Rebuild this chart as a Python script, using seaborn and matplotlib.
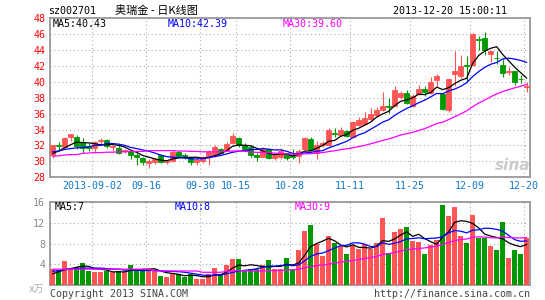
import numpy as np
import pandas as pd
import matplotlib
matplotlib.use("Agg")
import matplotlib.pyplot as plt
import seaborn as sns

# ---------------- data ----------------
opens = [30.8, 32.1, 31.8, 33.0, 33.1, 32.4, 31.9, 31.7, 32.6, 32.7,
         31.8, 31.7, 31.3, 31.3, 30.8, 30.4, 29.8, 29.95, 30.75, 29.9,
         30.1, 31.2, 30.85, 30.4, 29.9, 30.0, 30.6, 30.8, 31.5, 31.4,
         32.3, 32.9, 32.1, 31.8, 30.8, 30.6, 31.5, 30.4, 30.5, 31.0,
         30.7, 30.7, 31.5, 32.8, 31.0, 32.0, 32.0, 33.5, 33.3, 33.8,
         33.1, 34.6, 34.75, 35.3, 35.8, 36.5, 36.9, 37.0, 38.1, 38.6,
         36.95, 38.5, 39.1, 38.6, 40.2, 38.5, 36.4, 41.0, 40.7, 42.05,
         42.1, 45.35, 45.45, 43.5, 43.0, 42.1, 41.25, 41.3, 40.4, 39.35]
closes = [32.0, 31.9, 32.9, 33.4, 31.9, 31.7, 31.7, 32.4, 32.7, 31.9,
          31.9, 31.1, 31.4, 30.75, 30.5, 29.95, 30.1, 30.3, 29.9, 30.1,
          31.15, 30.7, 30.7, 29.9, 30.15, 30.5, 31.2, 31.8, 31.1, 32.2,
          33.2, 32.0, 31.6, 30.8, 30.6, 31.6, 30.4, 30.8, 31.3, 30.4,
          30.55, 31.3, 32.9, 31.4, 32.1, 32.3, 33.9, 33.45, 34.0, 33.2,
          34.95, 35.2, 35.4, 35.9, 36.4, 36.9, 36.8, 39.0, 38.6, 37.3,
          38.2, 39.1, 38.7, 39.95, 40.7, 36.6, 40.3, 41.3, 42.0, 41.95,
          46.0, 45.25, 44.0, 43.8, 42.95, 41.1, 41.3, 40.0, 40.35, 39.45]
highs = [32.1, 32.4, 33.0, 33.4, 33.3, 32.9, 32.3, 32.5, 32.9, 32.8,
         32.0, 32.0, 31.6, 31.4, 31.0, 30.6, 30.3, 30.4, 30.9, 30.2,
         31.4, 31.3, 31.0, 30.5, 30.4, 30.7, 31.4, 32.0, 31.7, 32.4,
         33.5, 33.1, 32.3, 32.0, 31.0, 31.8, 31.6, 31.0, 31.7, 31.1,
         31.6, 31.5, 33.0, 33.0, 32.5, 32.5, 34.2, 34.2, 34.3, 34.0,
         35.1, 35.6, 36.2, 36.7, 36.8, 38.7, 38.0, 39.5, 38.8, 38.9,
         38.5, 39.6, 39.5, 40.6, 41.0, 38.6, 40.4, 43.9, 43.3, 43.2,
         46.1, 45.8, 46.3, 43.9, 43.8, 42.8, 41.8, 41.4, 40.8, 40.0]
lows = [30.4, 31.3, 31.7, 32.6, 31.6, 31.1, 31.3, 31.1, 32.2, 31.7,
        31.3, 30.9, 31.1, 30.3, 29.6, 29.6, 29.2, 29.7, 29.8, 29.7,
        29.9, 30.6, 30.3, 29.6, 29.6, 29.8, 29.6, 30.6, 31.0, 31.3,
        32.2, 31.8, 31.4, 30.6, 30.0, 30.5, 30.3, 30.2, 30.3, 30.2,
        30.3, 29.8, 31.4, 31.3, 30.3, 31.8, 31.9, 33.1, 33.2, 33.0,
        33.0, 34.4, 34.6, 35.1, 35.6, 36.3, 36.1, 36.9, 37.8, 37.2,
        36.8, 38.3, 38.2, 38.4, 39.5, 36.5, 36.2, 39.5, 40.5, 40.0,
        42.0, 44.0, 43.3, 42.5, 42.2, 40.6, 40.8, 39.6, 39.9, 38.7]
volumes = [3.1, 3.0, 4.6, 3.2, 3.5, 4.2, 2.7, 2.5, 2.5, 2.7,
           2.5, 2.7, 2.5, 3.9, 3.1, 3.1, 3.0, 2.8, 1.7, 1.5,
           2.4, 2.1, 1.5, 2.1, 1.2, 1.3, 2.1, 3.4, 2.1, 3.9,
           5.0, 5.0, 2.7, 3.1, 3.2, 3.9, 4.8, 3.1, 3.2, 5.2,
           3.2, 6.8, 10.5, 11.6, 8.0, 5.6, 9.4, 8.1, 7.6, 6.1,
           7.7, 7.0, 7.9, 7.0, 8.1, 12.9, 6.3, 10.2, 10.8, 11.2,
           8.5, 8.3, 6.1, 7.8, 8.7, 15.5, 13.4, 15.0, 9.4, 8.1,
           13.5, 9.1, 9.1, 7.5, 6.8, 12.2, 5.2, 6.8, 6.1, 9.0]

# moving-average values at the start of the window (they use days before the chart)
ma5_head = [31.0, 31.3, 31.7, 32.1]
ma10_head = [31.2, 31.3, 31.5, 31.6, 31.7, 31.75, 31.8, 32.0, 32.0]
ma30_head = [30.65, 30.7, 30.8, 30.85, 30.85, 31.0, 31.05, 31.1, 31.1, 31.15,
             31.15, 31.2, 31.2, 31.25, 31.25, 31.25, 31.35, 31.35, 31.35, 31.35,
             31.35, 31.3, 31.3, 31.25, 31.25, 31.2, 31.2, 31.2, 31.2]
vma5_head = [2.2, 2.6, 3.0, 3.2]
vma10_head = [2.7, 2.8, 3.0, 3.1, 3.2, 3.3, 3.3, 3.3, 3.3]
vma30_head = [3.1] * 17 + [2.75] * 8 + [2.5] * 4

date_tick_idx = [7, 16, 25, 31, 40, 50, 60, 70, 79]
date_tick_labels = ["2013-09-02", "09-16", "09-30", "10-15", "10-28",
                    "11-11", "11-25", "12-09", "12-20"]
price_ticks = list(range(28, 49, 2))
vol_ticks = [4, 8, 12, 16]

code = "sz002701"
title = "奥瑞金 - 日K线图"
timestamp = "2013-12-20 15:00:11"
price_ma_text = ["MA5:40.43", "MA10:42.39", "MA30:39.60"]
vol_unit = "x万"
copyright_text = "Copyright 2013 SINA.COM"
url_text = "http://finance.sina.com.cn"


def moving_avg(values, n, head):
    s = pd.Series(values, dtype=float).rolling(n).mean().to_numpy()
    s[:n - 1] = head
    return s


ma5 = moving_avg(closes, 5, ma5_head)
ma10 = moving_avg(closes, 10, ma10_head)
ma30 = moving_avg(closes, 30, ma30_head)
vma5 = moving_avg(volumes, 5, vma5_head)
vma10 = moving_avg(volumes, 10, vma10_head)
vma30 = moving_avg(volumes, 30, vma30_head)
vol_ma_text = [f"MA5:{int(vma5[-1])}", f"MA10:{int(vma10[-1])}", f"MA30:{int(vma30[-1])}"]

# ---------------- style ----------------
sns.set_style("white")
plt.rcParams["font.family"] = ["DejaVu Sans Mono", "Noto Sans CJK SC"]

RED = "#FF5555"
GREEN = "#009900"
BLUE_DATE = "#1177CC"
MA_COLORS = ["black", "#0000FF", "#FF00FF"]
GRID = "#AAAAAA"
SPINE = "#999999"
FS = 7.2

W, H = 545, 300
fig = plt.figure(figsize=(W / 100, H / 100), dpi=100)
fig.patch.set_facecolor("white")


def fx(px):
    return px / W


def fy(py):
    return 1 - py / H


L, R = 50, 529.5
PT, PB = 18, 177.3
VT, VB = 202, 285.3
ax = fig.add_axes([fx(L), fy(PB), (R - L) / W, (PB - PT) / H])
axv = fig.add_axes([fx(L), fy(VB), (R - L) / W, (VB - VT) / H])

idx = np.arange(len(closes))
o, h, l, c = map(np.asarray, (opens, highs, lows, closes))
up = c >= o
cols = np.where(up, RED, GREEN)

# candles
ax.vlines(idx, l, h, colors=cols, linewidth=0.8, zorder=3)
ax.bar(idx, np.abs(c - o), bottom=np.minimum(o, c), width=0.8,
       color=cols, edgecolor=cols, linewidth=0.6, zorder=4)
for m, colr in zip([ma5, ma10, ma30], MA_COLORS):
    sns.lineplot(x=idx, y=m, ax=ax, color=colr, linewidth=0.9, zorder=5)

# volume
vdf = pd.DataFrame({"i": idx, "v": volumes, "dir": np.where(up, "up", "down")})
sns.barplot(data=vdf, x="i", y="v", hue="dir", palette={"up": RED, "down": GREEN},
            dodge=False, width=0.8, native_scale=True, legend=False,
            errorbar=None, saturation=1, linewidth=0, ax=axv, zorder=3)
for m, colr in zip([vma5, vma10, vma30], MA_COLORS):
    sns.lineplot(x=idx, y=m, ax=axv, color=colr, linewidth=0.9, zorder=5)

xt = np.asarray(date_tick_idx) - 0.42
for a in (ax, axv):
    a.set_xlim(-0.45, 79.47)
    a.set_xticks(xt)
    a.grid(True, color=GRID, linestyle=(0, (1, 2.5)), linewidth=0.8)
    a.set_axisbelow(True)
    a.set_xlabel("")
    a.set_ylabel("")
    for s in a.spines.values():
        s.set_color(SPINE)
        s.set_linewidth(1.3)
        s.set_visible(True)

ax.set_ylim(28, 48)
ax.set_yticks(price_ticks)
ax.set_yticklabels([str(t) for t in price_ticks])
ax.set_xticklabels(date_tick_labels)
ax.tick_params(axis="y", length=0, pad=3.5, labelcolor="red", labelsize=FS)
ax.tick_params(axis="x", length=0, pad=3.0, labelcolor=BLUE_DATE, labelsize=FS)

axv.set_ylim(0, 16)
axv.set_yticks(vol_ticks)
axv.set_yticklabels([str(t) for t in vol_ticks])
axv.set_xticklabels([])
axv.tick_params(axis="y", length=0, pad=3.5, labelcolor="#888888", labelsize=FS)
axv.tick_params(axis="x", length=0)

# texts
fig.text(fx(48), fy(11), code, fontsize=FS, ha="left", va="center", color="black")
fig.text(fx(115), fy(11), title, fontsize=8, ha="left", va="center", color="black",
         family=["Noto Sans CJK SC", "DejaVu Sans"])
fig.text(fx(507), fy(11), timestamp, fontsize=FS, ha="right", va="center", color="black")

for txt, x0, colr in zip(price_ma_text, [53, 168, 283], MA_COLORS):
    fig.text(fx(x0), fy(24), txt, fontsize=FS, ha="left", va="center", color=colr)
for txt, x0, colr in zip(vol_ma_text, [55, 175, 295], MA_COLORS):
    fig.text(fx(x0), fy(206.5), txt, fontsize=FS, ha="left", va="center", color=colr)

fig.text(fx(44), fy(289), vol_unit, fontsize=7, ha="right", va="center", color="#AAAAAA",
         family=["DejaVu Sans", "Noto Sans CJK SC"])
fig.text(fx(50), fy(294), copyright_text, fontsize=FS, ha="left", va="center", color="#444444")
fig.text(fx(530), fy(294), url_text, fontsize=FS, ha="right", va="center", color="#444444")

# sina watermark
fig.text(fx(513), fy(166), "sina", fontsize=11, ha="center", va="center", color="#CCCCCC",
         style="italic", weight="bold", family=["DejaVu Sans"])

fig.savefig("out.png", dpi=100, facecolor="white")
